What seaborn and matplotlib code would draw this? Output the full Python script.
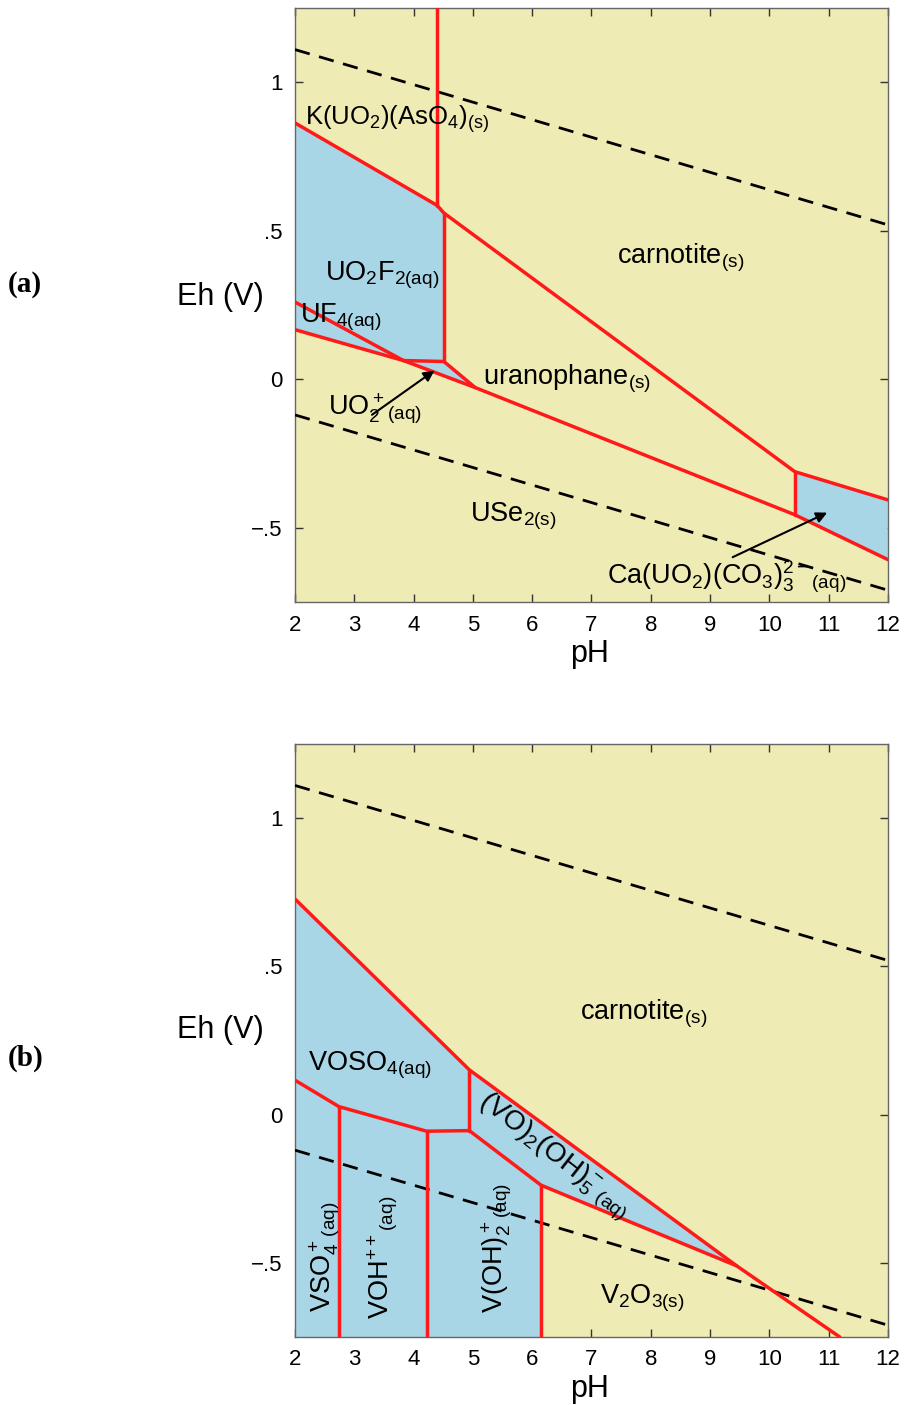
import numpy as np
import pandas as pd
import matplotlib
matplotlib.use("Agg")
import matplotlib.pyplot as plt
import seaborn as sns

sns.set_theme(style="ticks")
plt.rcParams["font.family"] = ["Liberation Sans", "DejaVu Sans"]
plt.rcParams["mathtext.fontset"] = "custom"
plt.rcParams["mathtext.rm"] = "Liberation Sans"
plt.rcParams["mathtext.it"] = "Liberation Sans"
plt.rcParams["mathtext.default"] = "regular"
plt.rcParams["text.color"] = "black"
plt.rcParams["axes.labelcolor"] = "black"

# ---------------- data ----------------
# water stability limits (Eh at pH 2 and pH 12)
water_ph = [2, 12]
water_upper = [1.11, 0.52]
water_lower = [-0.12, -0.71]

ph_ticks = [2, 3, 4, 5, 6, 7, 8, 9, 10, 11, 12]
eh_ticks = [-0.5, 0.0, 0.5, 1.0]
eh_ticklabels = ["\u2212.5", "0", ".5", "1"]

# panel (a): uranium species boundaries (pH, Eh)
a_bounds = {
    "arsenate": ([2, 4.40, 4.51, 10.43, 12], [0.863, 0.585, 0.560, -0.311, -0.406]),
    "pH44": ([4.40, 4.40], [1.25, 0.585]),
    "pH45": ([4.51, 4.51], [0.560, 0.060]),
    "flat": ([3.83, 4.51], [0.063, 0.060]),
    "fluor": ([2, 3.83], [0.260, 0.063]),
    "reduced": ([2, 3.83, 5.04, 10.43, 12], [0.167, 0.063, -0.028, -0.456, -0.607]),
    "uo2": ([4.51, 5.04], [0.060, -0.028]),
    "carb": ([10.43, 10.43], [-0.311, -0.456]),
}
# aqueous fields (blue)
a_uo2f2 = ([2, 4.40, 4.51, 4.51, 3.83, 2], [0.863, 0.585, 0.560, 0.060, 0.063, 0.260])
a_uf4 = ([2, 3.83, 2], [0.260, 0.063, 0.167])
a_uo2p = ([3.83, 4.51, 5.04], [0.063, 0.060, -0.028])
a_cauo2 = ([10.43, 12, 12, 10.43], [-0.311, -0.406, -0.607, -0.456])

# panel (b): vanadium species boundaries (pH, Eh)
b_bounds = {
    "carnotite": ([2, 4.94, 9.45, 11.19], [0.727, 0.151, -0.510, -0.750]),
    "pH49": ([4.94, 4.94], [0.151, -0.054]),
    "voso4": ([2, 2.74, 4.22, 4.94], [0.116, 0.027, -0.056, -0.054]),
    "vo2oh5": ([4.94, 6.15, 9.45], [-0.054, -0.238, -0.510]),
    "pH27": ([2.74, 2.74], [0.027, -0.75]),
    "pH42": ([4.22, 4.22], [-0.056, -0.75]),
    "pH61": ([6.15, 6.15], [-0.238, -0.75]),
}
b_aqueous = ([2, 4.94, 9.45, 6.15, 6.15, 2], [0.727, 0.151, -0.510, -0.238, -0.75, -0.75])

YELLOW = "#EFEBB4"
BLUE = "#A9D6E6"
RED = "#FF1A1A"
LBL = 19.5

fig = plt.figure(figsize=(9.05, 14.05), dpi=100)
ax_a = fig.add_axes([0.326, 0.5715, 0.655, 0.4228])
ax_b = fig.add_axes([0.326, 0.0484, 0.655, 0.4221])


def bounds_frame(bounds):
    rows = []
    for name, (xs, ys) in bounds.items():
        for i, (x, y) in enumerate(zip(xs, ys)):
            rows.append({"seg": name, "order": i, "pH": x, "Eh": y})
    return pd.DataFrame(rows)


def base_axes(ax):
    ax.set_facecolor(YELLOW)
    for eh in (water_upper, water_lower):
        sub = pd.DataFrame({"pH": water_ph, "Eh": eh})
        sns.lineplot(data=sub, x="pH", y="Eh", ax=ax, color="black", lw=2.0,
                     estimator=None, sort=False, zorder=4)
        ax.lines[-1].set_dashes([5.5, 3.5])
    ax.set_xlim(2, 12)
    ax.set_ylim(-0.75, 1.25)
    ax.set_xticks(ph_ticks)
    ax.set_yticks(eh_ticks)
    ax.set_yticklabels(eh_ticklabels)
    ax.tick_params(direction="in", length=6, width=1, top=True, right=True,
                   labelsize=16, colors="#333333", labelcolor="black", pad=9)
    for s in ax.spines.values():
        s.set_color("#666666")
        s.set_linewidth(1.0)


def draw_bounds(ax, bounds, ylab_y):
    df = bounds_frame(bounds)
    sns.lineplot(data=df, x="pH", y="Eh", units="seg", estimator=None,
                 sort=False, color=RED, lw=2.5, ax=ax, zorder=5)
    ax.set_xlabel("pH", fontsize=22)
    ax.set_ylabel("Eh (V)", fontsize=22, rotation=0, va="center", ha="center")
    ax.xaxis.set_label_coords(0.497, -0.062)
    ax.yaxis.set_label_coords(-0.126, ylab_y)


# ---------------- panel (a) ----------------
base_axes(ax_a)
for xs, ys in [a_uo2f2, a_uf4, a_uo2p, a_cauo2]:
    ax_a.fill(xs, ys, color=BLUE, lw=0, zorder=1)
draw_bounds(ax_a, a_bounds, 0.513)

ax_a.text(2.17, 0.875, r"K(UO$_2$)(AsO$_4$)$_{(s)}$", fontsize=18.5, va="center", zorder=6)
ax_a.text(7.43, 0.41, r"carnotite$_{(s)}$", fontsize=LBL, va="center", zorder=6)
ax_a.text(2.50, 0.35, r"UO$_2$F$_{2(aq)}$", fontsize=LBL, va="center", zorder=6)
ax_a.text(2.08, 0.21, r"UF$_{4(aq)}$", fontsize=LBL, va="center", zorder=6)
ax_a.text(5.17, 0.0, r"uranophane$_{(s)}$", fontsize=LBL, va="center", zorder=6)
ax_a.text(2.56, -0.10, r"UO$_2^+$$_{(aq)}$", fontsize=LBL, va="center", zorder=6)
ax_a.text(4.95, -0.46, r"USe$_{2(s)}$", fontsize=LBL, va="center", zorder=6)
ax_a.text(7.26, -0.665, r"Ca(UO$_2$)(CO$_3$)$_3^{2-}$$_{(aq)}$", fontsize=LBL,
          va="center", zorder=6)
arrow_kw = dict(arrowstyle="-|>", color="black", lw=1.5, mutation_scale=16)
ax_a.annotate("", xy=(4.39, 0.035), xytext=(3.26, -0.125), arrowprops=arrow_kw, zorder=7)
ax_a.annotate("", xy=(11.02, -0.445), xytext=(9.34, -0.603), arrowprops=arrow_kw, zorder=7)

# ---------------- panel (b) ----------------
base_axes(ax_b)
ax_b.fill(*b_aqueous, color=BLUE, lw=0, zorder=1)
draw_bounds(ax_b, b_bounds, 0.518)

ax_b.text(6.80, 0.34, r"carnotite$_{(s)}$", fontsize=LBL, va="center", zorder=6)
ax_b.text(2.22, 0.165, r"VOSO$_{4(aq)}$", fontsize=LBL, va="center", zorder=6)
ax_b.text(6.36, -0.14, r"(VO)$_2$(OH)$_5^-$$_{(aq)}$", fontsize=20, ha="center",
          va="center", rotation=-38, rotation_mode="anchor", zorder=6)
ax_b.text(2.50, -0.48, r"VSO$_4^+$$_{(aq)}$", fontsize=LBL, ha="center", va="center",
          rotation=90, rotation_mode="anchor", zorder=6)
ax_b.text(3.48, -0.48, r"VOH$^{++}$$_{(aq)}$", fontsize=LBL, ha="center", va="center",
          rotation=90, rotation_mode="anchor", zorder=6)
ax_b.text(5.40, -0.45, r"V(OH)$_2^+$$_{(aq)}$", fontsize=LBL, ha="center", va="center",
          rotation=90, rotation_mode="anchor", zorder=6)
ax_b.text(7.14, -0.62, r"V$_2$O$_{3(s)}$", fontsize=LBL, va="center", zorder=6)

for ax in (ax_a, ax_b):
    leg = ax.get_legend()
    if leg is not None:
        leg.remove()

fig.text(8 / 905, 1 - 285 / 1405, "(a)", fontsize=21, fontweight="bold",
         family=["Liberation Serif", "DejaVu Serif"], va="center", ha="left")
fig.text(8 / 905, 1 - 1058 / 1405, "(b)", fontsize=21, fontweight="bold",
         family=["Liberation Serif", "DejaVu Serif"], va="center", ha="left")

fig.savefig("out.png", dpi=100, facecolor="white")
